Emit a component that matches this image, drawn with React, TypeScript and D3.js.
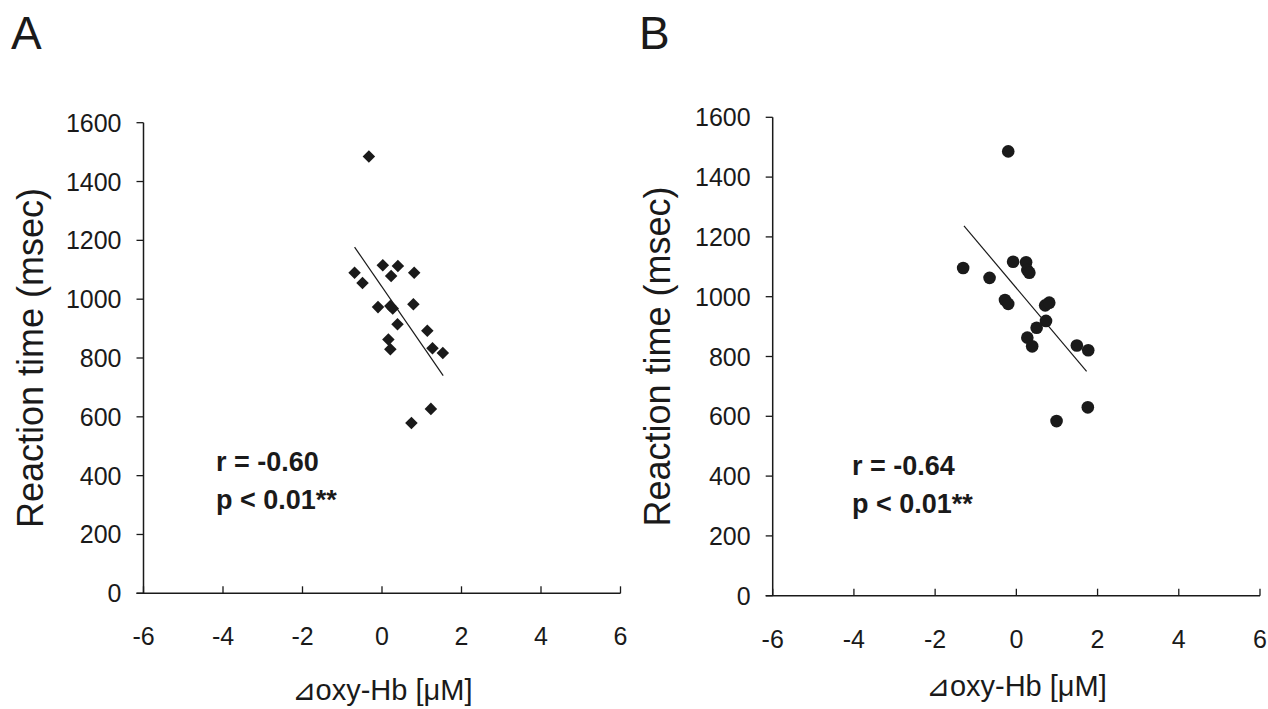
import * as d3 from "d3";

// panel A: diamonds
const oxyA = [-0.33, -0.69, -0.49, 0.02, 0.4, 0.23, 0.81, -0.1, 0.21, 0.27, 0.79, 0.39, 1.14, 0.16, 0.21, 1.27, 1.53, 1.23, 0.74];
const rtA = [1485, 1090, 1055, 1115, 1113, 1079, 1090, 973, 977, 968, 983, 915, 893, 863, 830, 833, 817, 627, 579];
const fitA = [
  { x: -0.69, y: 1177 },
  { x: 1.54, y: 740 },
];

// panel B: circles
const oxyB = [-0.2, -1.31, -0.66, -0.08, 0.24, 0.27, 0.32, -0.28, -0.2, 0.71, 0.81, 0.73, 0.5, 0.27, 0.39, 1.49, 1.77, 1.76, 0.99];
const rtB = [1486, 1096, 1063, 1117, 1115, 1089, 1080, 989, 976, 971, 980, 919, 896, 863, 834, 837, 821, 630, 584];
const fitB = [
  { x: -1.29, y: 1237 },
  { x: 1.73, y: 750 },
];

const xTicks = [-6, -4, -2, 0, 2, 4, 6];
const yTicks = [0, 200, 400, 600, 800, 1000, 1200, 1400, 1600];

const font = "Arial, 'Liberation Sans', sans-serif";
const ink = "#1a1a1a";

type PanelProps = {
  label: string;
  xs: number[];
  ys: number[];
  fit: { x: number; y: number }[];
  stats: string[];
  shape: "diamond" | "circle";
  x0: number; // axis pixel extents
  x1: number;
  yTop: number;
  yBottom: number;
  labelX: number;
  yTitleX: number;
  xTitleY: number;
  statsX: number;
  statsY: number;
};

const Panel = (p: PanelProps) => {
  const x = d3.scaleLinear().domain([-6, 6]).range([p.x0, p.x1]);
  const y = d3.scaleLinear().domain([0, 1600]).range([p.yBottom, p.yTop]);
  const line = d3
    .line<{ x: number; y: number }>()
    .x((d) => x(d.x))
    .y((d) => y(d.y));
  const diamond = d3.symbol().type(d3.symbolDiamond2).size(100)();
  const circle = d3.symbol().type(d3.symbolCircle).size(125)();

  return (
    <g>
      <text x={p.labelX} y={49} fontSize={46} fontFamily={font} fill={ink}>
        {p.label}
      </text>
      {/* y axis */}
      <line x1={p.x0} x2={p.x0} y1={y(1600)} y2={y(0)} stroke={ink} strokeWidth={1.5} />
      {yTicks.map((t) => (
        <g key={t}>
          <line x1={p.x0 - 7} x2={p.x0} y1={y(t)} y2={y(t)} stroke={ink} strokeWidth={1.3} />
          <text
            x={p.x0 - 22}
            y={y(t)}
            dy="0.36em"
            textAnchor="end"
            fontSize={25}
            fontFamily={font}
            fill={ink}
          >
            {t}
          </text>
        </g>
      ))}
      {/* x axis */}
      <line x1={p.x0 - 7} x2={p.x1} y1={y(0)} y2={y(0)} stroke={ink} strokeWidth={1.5} />
      {xTicks.map((t) => (
        <g key={t}>
          <line x1={x(t)} x2={x(t)} y1={y(0)} y2={y(0) - 7} stroke={ink} strokeWidth={1.3} />
          <text
            x={x(t)}
            y={y(0) + 43}
            dy="0.36em"
            textAnchor="middle"
            fontSize={25}
            fontFamily={font}
            fill={ink}
          >
            {t}
          </text>
        </g>
      ))}
      <text
        transform={`translate(${p.yTitleX},${(y(0) + y(1600)) / 2}) rotate(-90)`}
        textAnchor="middle"
        dy="0.36em"
        fontSize={36}
        fontFamily={font}
        fill={ink}
      >
        Reaction time (msec)
      </text>
      <text
        x={x(0)}
        y={p.xTitleY}
        textAnchor="middle"
        fontSize={29}
        fontFamily={font}
        fill={ink}
      >
        ⊿oxy-Hb [μM]
      </text>
      {/* regression line */}
      <path d={line(p.fit) ?? ""} fill="none" stroke={ink} strokeWidth={1.2} />
      {p.xs.map((v, i) => (
        <path
          key={i}
          d={(p.shape === "diamond" ? diamond : circle) ?? ""}
          transform={`translate(${x(v)},${y(p.ys[i])})`}
          fill={ink}
        />
      ))}
      {p.stats.map((s, i) => (
        <text
          key={s}
          x={p.statsX}
          y={p.statsY + i * 38}
          fontSize={27}
          fontWeight="bold"
          fontFamily={font}
          fill={ink}
        >
          {s}
        </text>
      ))}
    </g>
  );
};

const App = () => {
  const width = 1268;
  const height = 709;
  return (
    <svg
      width={width}
      height={height}
      style={{ position: "absolute", left: 0, top: 0, background: "#fff" }}
    >
      <rect width={width} height={height} fill="#fff" />
      <Panel
        label="A"
        xs={oxyA}
        ys={rtA}
        fit={fitA}
        stats={["r = -0.60", "p < 0.01**"]}
        shape="diamond"
        x0={143.5}
        x1={620.5}
        yTop={122.7}
        yBottom={593.3}
        labelX={11}
        yTitleX={30}
        xTitleY={700}
        statsX={216}
        statsY={471}
      />
      <Panel
        label="B"
        xs={oxyB}
        ys={rtB}
        fit={fitB}
        stats={["r = -0.64", "p < 0.01**"]}
        shape="circle"
        x0={772.7}
        x1={1260}
        yTop={117.3}
        yBottom={595.7}
        labelX={639}
        yTitleX={657}
        xTitleY={696}
        statsX={852}
        statsY={475}
      />
    </svg>
  );
};

export default App;
